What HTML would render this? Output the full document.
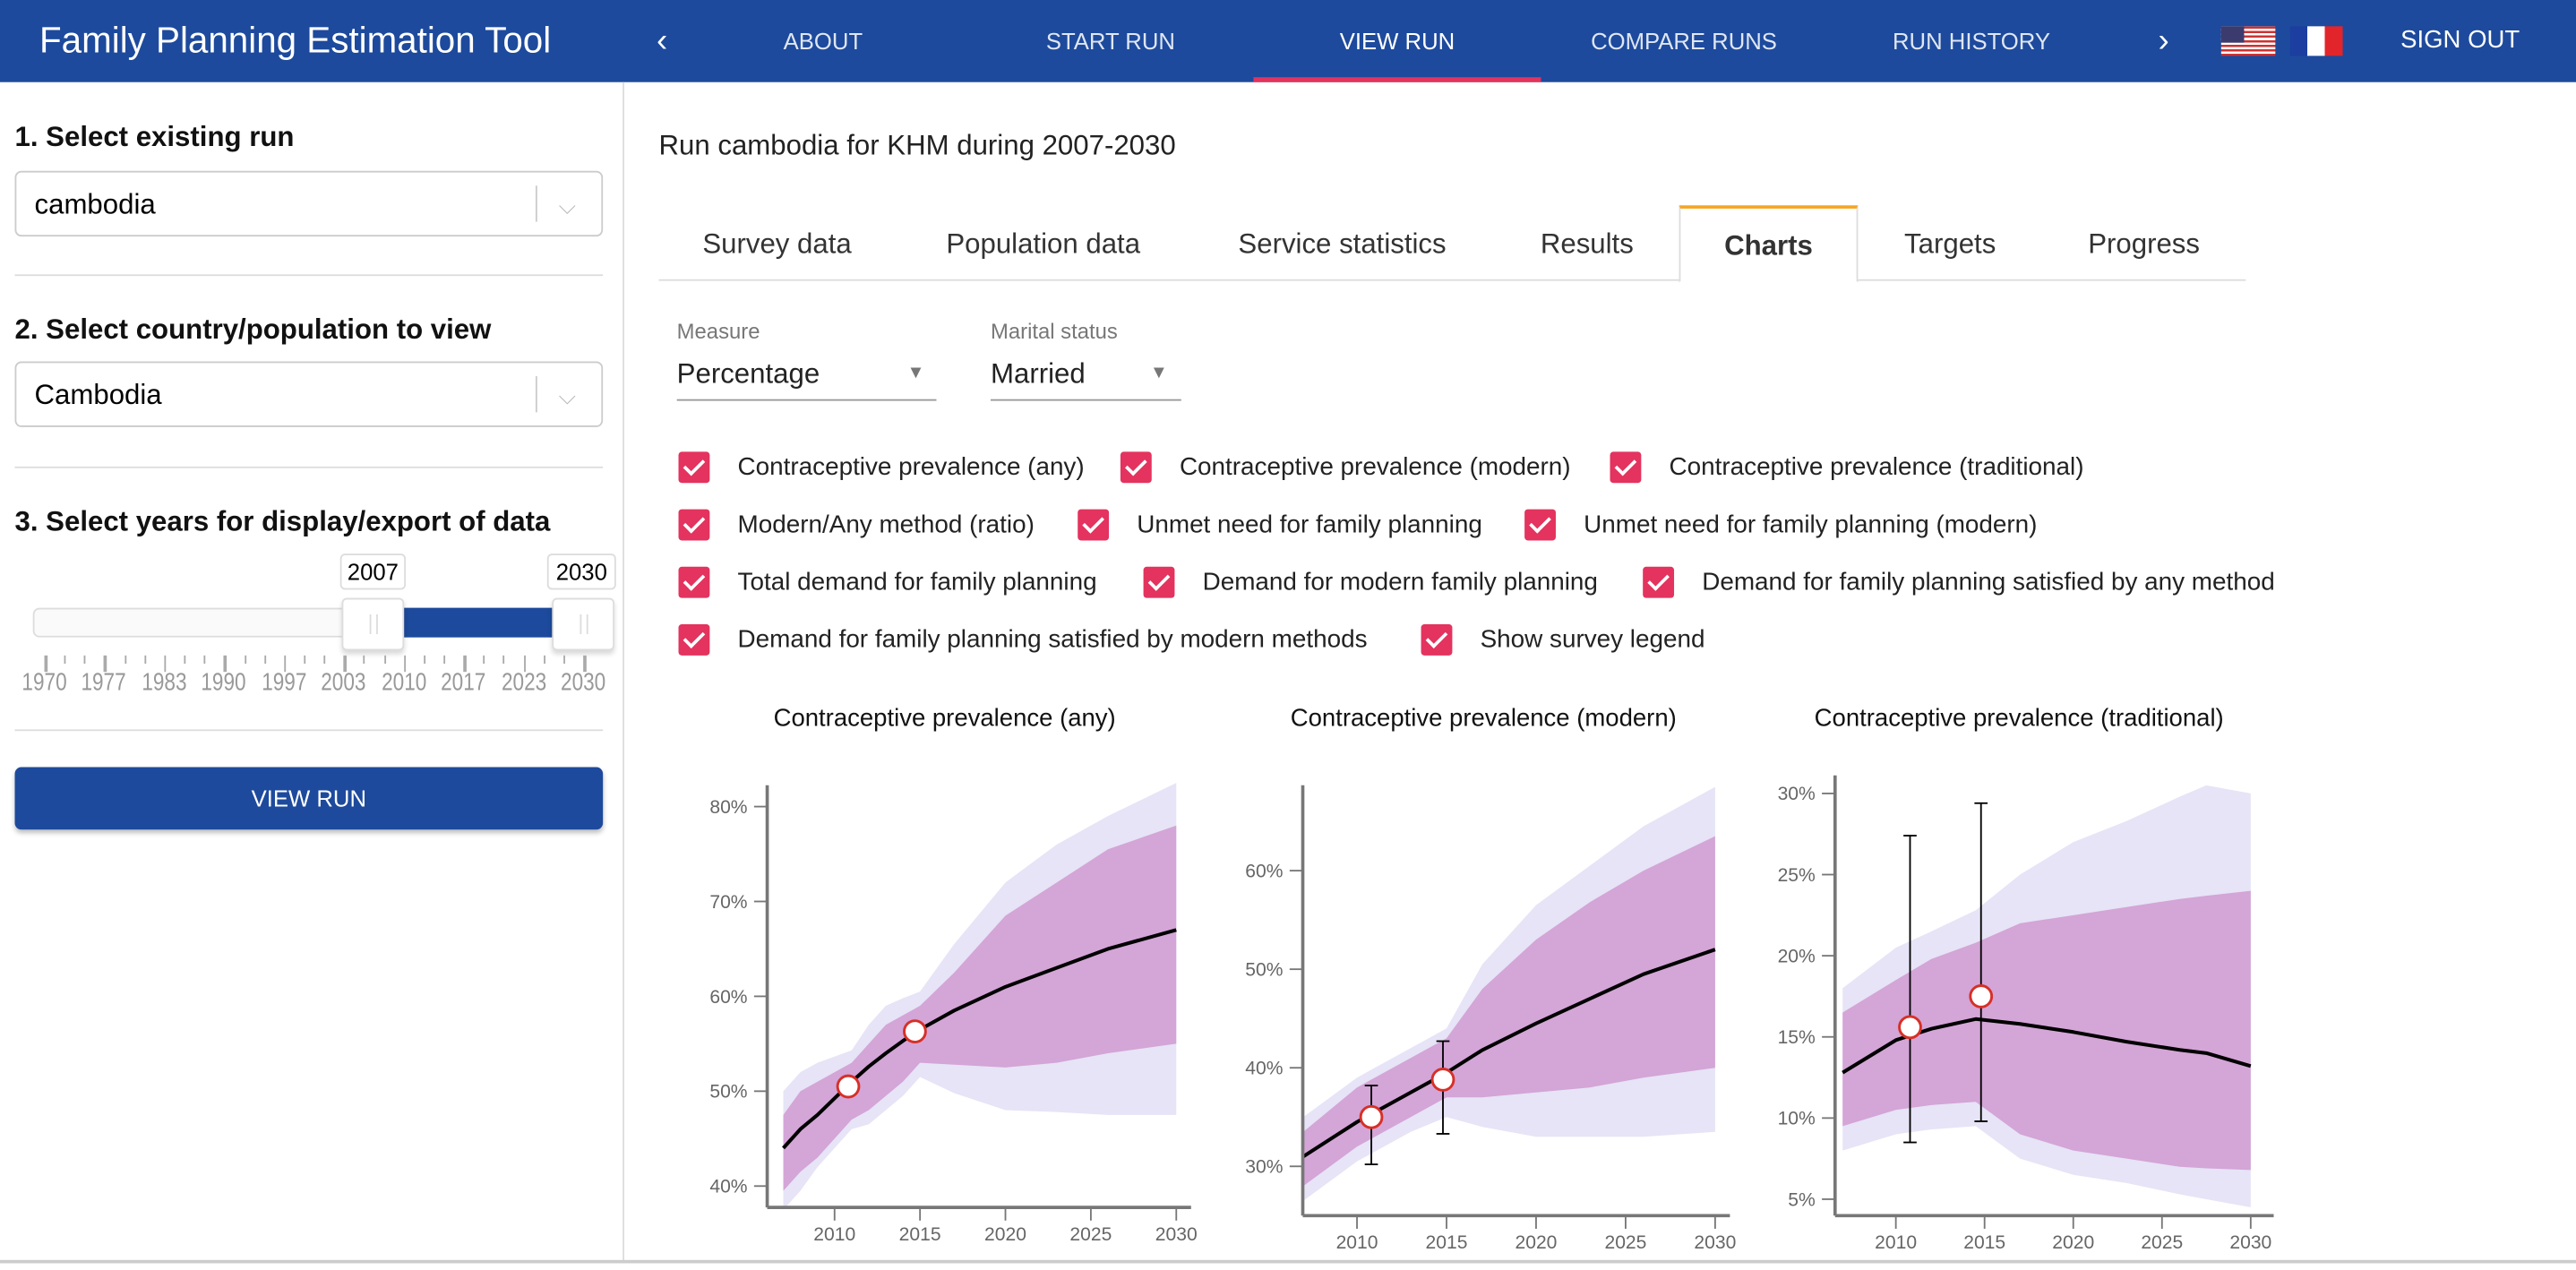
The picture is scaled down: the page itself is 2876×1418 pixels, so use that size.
<!DOCTYPE html>
<html><head><meta charset="utf-8">
<style>
html,body{margin:0;padding:0;width:2876px;height:1418px;overflow:hidden;background:#fff;font-family:"Liberation Sans",sans-serif;}
#wrap{position:absolute;left:0;top:0;width:1568px;height:773px;transform:scale(1.83418);transform-origin:0 0;}
.abs{position:absolute;}
.hdr{left:0;top:0;width:1568px;height:50px;background:#1d4a9c;color:#fff;}
.nav{top:0;height:50px;line-height:50px;font-size:14px;color:#dfe6f3;text-align:center;}
.left{left:0;top:50px;width:379px;height:718px;border-right:1px solid #ddd;}
.h{font-size:17px;font-weight:bold;color:#111;}
.sel{left:9px;width:356px;height:38px;border:1px solid #ccc;border-radius:4px;font-size:17px;line-height:40px;}
.sep{left:9px;width:358px;height:1px;background:#ddd;}
.tab{top:127px;height:44px;line-height:44px;font-size:17px;color:#333;text-align:center;}
.cb{width:19px;height:19px;background:#e3335e;border-radius:2px;}
.cb:after{content:"";position:absolute;left:6px;top:2px;width:5px;height:10px;border:solid #fff;border-width:0 2.5px 2.5px 0;transform:rotate(45deg);}
.cl{font-size:15.2px;color:#222;}
</style></head><body>
<div id="wrap">
<div class="abs hdr">
 <div class="abs" style="left:24px;top:12px;font-size:22px;">Family Planning Estimation Tool</div>
 <div class="abs nav" style="left:392px;width:22px;font-size:20px;color:#fff">‹</div>
 <div class="abs nav" style="left:440px;width:122px">ABOUT</div>
 <div class="abs nav" style="left:610px;width:132px">START RUN</div>
 <div class="abs nav" style="left:763px;width:175px;color:#fff;">VIEW RUN</div>
 <div class="abs" style="left:763px;top:47px;width:175px;height:3px;background:#e3335e"></div>
 <div class="abs nav" style="left:950px;width:150px">COMPARE RUNS</div>
 <div class="abs nav" style="left:1130px;width:140px">RUN HISTORY</div>
 <div class="abs nav" style="left:1306px;width:22px;font-size:20px;color:#fff">›</div>
 <div class="abs" style="left:1352px;top:16px;width:33px;height:18px;background:repeating-linear-gradient(#c33 0 1.4px,#fff 1.4px 2.8px)"><div class="abs" style="left:0;top:0;width:14px;height:10px;background:#3c3b6e"></div></div>
 <div class="abs" style="left:1394px;top:16px;width:32px;height:18px;background:linear-gradient(90deg,#1b3ea0 0 33%,#fff 33% 66%,#e1252b 66%)"></div>
 <div class="abs nav" style="left:1450px;width:95px;color:#fff;font-size:15px">SIGN OUT</div>
</div>

<div class="abs left">
 <div class="abs h" style="left:9px;top:24px">1. Select existing run</div>
 <div class="abs sel" style="top:54px"><span style="margin-left:11px">cambodia</span><span class="abs" style="left:316px;top:8px;width:1px;height:22px;background:#ccc"></span><span class="abs" style="left:330px;top:0;color:#bbb;font-size:14px">&#x2335;</span></div>
 <div class="abs sep" style="top:117px"></div>
 <div class="abs h" style="left:9px;top:141px">2. Select country/population to view</div>
 <div class="abs sel" style="top:170px"><span style="margin-left:11px">Cambodia</span><span class="abs" style="left:316px;top:8px;width:1px;height:22px;background:#ccc"></span><span class="abs" style="left:330px;top:0;color:#bbb;font-size:14px">&#x2335;</span></div>
 <div class="abs sep" style="top:234px"></div>
 <div class="abs h" style="left:9px;top:258px">3. Select years for display/export of data</div>
 <div class="abs" style="left:20px;top:320px;width:350px;background:#fafafa;border:1px solid #ddd;border-radius:4px;height:16px"></div>
 <div class="abs" style="left:236px;top:320px;width:106px;height:18px;background:#1d4a9c"></div>
 <div class="abs" style="left:208px;top:314px;width:36px;height:30px;background:#fff;border:1px solid #ddd;border-radius:3px;box-shadow:0 2px 3px rgba(0,0,0,.15)"><div class="abs" style="left:16px;top:9px;width:3px;height:12px;border-left:1px solid #ddd;border-right:1px solid #ddd"></div></div>
 <div class="abs" style="left:336px;top:314px;width:36px;height:30px;background:#fff;border:1px solid #ddd;border-radius:3px;box-shadow:0 2px 3px rgba(0,0,0,.15)"><div class="abs" style="left:16px;top:9px;width:3px;height:12px;border-left:1px solid #ddd;border-right:1px solid #ddd"></div></div>
 <div class="abs" style="left:207px;top:287px;width:38px;height:20px;border:1px solid #ddd;border-radius:3px;font-size:14px;text-align:center;line-height:20px;background:#fff">2007</div>
 <div class="abs" style="left:333px;top:287px;width:40px;height:20px;border:1px solid #ddd;border-radius:3px;font-size:14px;text-align:center;line-height:20px;background:#fff">2030</div>
 <div id="sticks" class="abs" style="left:0;top:349px;width:379px;height:40px"></div>
 <div class="abs sep" style="top:394px"></div>
 <div class="abs" style="left:9px;top:417px;width:358px;height:38px;background:#1d4a9c;border-radius:4px;color:#fff;font-size:14px;text-align:center;line-height:38px;box-shadow:0 2px 3px rgba(0,0,0,.25)">VIEW RUN</div>
</div>

<div class="abs" style="left:401px;top:79px;font-size:17px;color:#222">Run cambodia for KHM during 2007-2030</div>
<div class="abs" style="left:401px;top:170px;width:966px;height:1px;background:#ddd"></div>
<div class="abs tab" style="left:418px;width:110px">Survey data</div>
<div class="abs tab" style="left:560px;width:150px">Population data</div>
<div class="abs tab" style="left:737px;width:160px">Service statistics</div>
<div class="abs tab" style="left:926px;width:80px">Results</div>
<div class="abs tab" style="left:1022px;width:107px;border:1px solid #ddd;border-top:2px solid #f5a623;border-bottom:1px solid #fff;font-weight:bold;background:#fff;top:125px;line-height:46px">Charts</div>
<div class="abs tab" style="left:1145px;width:84px">Targets</div>
<div class="abs tab" style="left:1255px;width:100px">Progress</div>

<div class="abs" style="left:412px;top:194px;font-size:13px;color:#777">Measure</div>
<div class="abs" style="left:412px;top:218px;width:158px;height:25px;border-bottom:1px solid #999;font-size:17px;color:#222">Percentage<span class="abs" style="left:140px;top:3px;font-size:11px;color:#777">▼</span></div>
<div class="abs" style="left:603px;top:194px;font-size:13px;color:#777">Marital status</div>
<div class="abs" style="left:603px;top:218px;width:116px;height:25px;border-bottom:1px solid #999;font-size:17px;color:#222">Married<span class="abs" style="left:97px;top:3px;font-size:11px;color:#777">▼</span></div>

<div id="cbs"></div>
<svg id="charts" class="abs" style="left:0;top:0" width="1568" height="773"></svg>
<div class="abs" style="left:0;top:767px;width:1568px;height:2px;background:#ccc"></div>
</div>
<script>
// slider scale
const sliderLabels=["1970","1977","1983","1990","1997","2003","2010","2017","2023","2030"];
(function(){const s=document.getElementById('sticks');let h='';
const x0=27, step=36.45/3;
for(let i=0;i<=27;i++){const x=x0+i*step;const big=i%3==0;h+=`<div class="abs" style="left:${x}px;top:0px;width:${big?1.5:1}px;height:${big?10:5}px;background:#aaa"></div>`;}
sliderLabels.forEach((l,i)=>{h+=`<div class="abs" style="left:${x0+i*36.45-20}px;top:8px;width:40px;text-align:center;font-size:15px;color:#999;transform:scaleX(0.82)">${l}</div>`});
s.innerHTML=h;})();
// checkboxes
const cbItems=[[413,284,"Contraceptive prevalence (any)"],[682,284,"Contraceptive prevalence (modern)"],[980,284,"Contraceptive prevalence (traditional)"],
[413,319,"Modern/Any method (ratio)"],[656,319,"Unmet need for family planning"],[928,319,"Unmet need for family planning (modern)"],
[413,354,"Total demand for family planning"],[696,354,"Demand for modern family planning"],[1000,354,"Demand for family planning satisfied by any method"],
[413,389,"Demand for family planning satisfied by modern methods"],[865,389,"Show survey legend"]];
(function(){const c=document.getElementById('cbs');
cbItems.forEach(it=>{
 const d=document.createElement('div');d.className='abs cb';d.style.left=it[0]+'px';d.style.top=(it[1]-9)+'px';
 
 
 c.appendChild(d);
 const l=document.createElement('div');l.className='abs cl';l.style.left=(it[0]+36)+'px';l.style.top=(it[1]-8)+'px';l.textContent=it[2];
 
 
 c.appendChild(l);});})();

// chart data
const c1Years=[2007,2008,2009,2011,2012,2013,2014,2015,2017,2020,2023,2026,2030];
const c1Median=[44,46,47.5,51,52.6,54,55.3,56.5,58.5,61,63,65,67];
const c1InnerHi=[47.5,50,51,53,55,57,58,59,62.5,68.5,72,75.5,78];
const c1InnerLo=[39.5,41.5,43,47,48,49.5,51,53,52.8,52.5,53,54,55];
const c1OuterHi=[50,52,53,54.3,57,59,59.8,60.5,65.5,72,76,79,82.5];
const c1OuterLo=[37.5,39.5,42,46,46.5,48,49.5,51.5,49.8,48,47.8,47.5,47.5];
const c1SurveyX=[2010.8,2014.7];
const c1SurveyY=[50.5,56.3];
const c1SurveyLo=[null,null];
const c1SurveyHi=[null,null];
const c1Ticks=[40,50,60,70,80];

const c2Years=[2007,2010,2013,2015,2017,2020,2023,2026,2030];
const c2Median=[31,34.5,37.5,39.5,41.8,44.5,47,49.5,52];
const c2InnerHi=[33.5,38,41,43,48,53,56.8,60,63.5];
const c2InnerLo=[28,32,35,37,37,37.5,38,39,40];
const c2OuterHi=[35,39,42,44,50.5,56.5,60.5,64.5,68.5];
const c2OuterLo=[26.5,30.5,33.5,35,34,33,33,33,33.5];
const c2SurveyX=[2010.8,2014.8];
const c2SurveyY=[35,38.8];
const c2SurveyLo=[30.2,33.3];
const c2SurveyHi=[38.2,42.7];
const c2Ticks=[30,40,50,60];

const c3Years=[2007,2010,2012,2014.5,2017,2020,2023,2026,2027.5,2030];
const c3Median=[12.8,14.8,15.5,16.1,15.8,15.3,14.7,14.2,14,13.2];
const c3InnerHi=[16.5,18.5,19.8,20.8,22,22.5,23,23.5,23.7,24];
const c3InnerLo=[9.5,10.5,10.8,11,9,8,7.5,7,6.9,6.8];
const c3OuterHi=[18,20.5,21.5,22.8,25,27,28.3,29.8,30.5,30];
const c3OuterLo=[8,9,9.3,9.5,7.5,6.5,6,5.3,5,4.5];
const c3SurveyX=[2010.8,2014.8];
const c3SurveyY=[15.6,17.5];
const c3SurveyLo=[8.5,9.8];
const c3SurveyHi=[27.4,29.4];
const c3Ticks=[5,10,15,20,25,30];
const xTicks=[2010,2015,2020,2025,2030];

const svg=document.getElementById('charts');
const NS='http://www.w3.org/2000/svg';
function mk(t,a,p){const e=document.createElementNS(NS,t);for(const k in a)e.setAttribute(k,a[k]);(p||svg).appendChild(e);return e;}
function chart(cfg){
 const g=mk('g',{});
 
 
 const X=v=>cfg.x0+(v-2010)*cfg.xs, Y=v=>cfg.y0-(v-cfg.yref)*cfg.ys;
 const band=(hi,lo,col,nm)=>{let d='';cfg.years.forEach((yr,i)=>d+=(i?'L':'M')+X(yr)+','+Y(hi[i]));
  for(let i=cfg.years.length-1;i>=0;i--)d+='L'+X(cfg.years[i])+','+Y(lo[i]);
  const p=mk('path',{d:d+'Z',fill:col},g);
  
  };
 band(cfg.oh,cfg.ol,'#e6e4f6','outer-interval-band');
 band(cfg.ih,cfg.il,'#d4a5d7','inner-interval-band');
 let d='';cfg.years.forEach((yr,i)=>d+=(i?'L':'M')+X(yr)+','+Y(cfg.med[i]));
 const ln=mk('path',{d:d,fill:'none',stroke:'#000','stroke-width':2.2,'stroke-linejoin':'round'},g);
 
 
 mk('line',{x1:cfg.ax,y1:cfg.axTop,x2:cfg.ax,y2:cfg.axB,stroke:'#777','stroke-width':2},g);
 mk('line',{x1:cfg.ax,y1:cfg.axB,x2:cfg.axR,y2:cfg.axB,stroke:'#777','stroke-width':2},g);
 cfg.ticks.forEach(t=>{mk('line',{x1:cfg.ax-8,x2:cfg.ax,y1:Y(t),y2:Y(t),stroke:'#777'},g);
  const tx=mk('text',{x:cfg.ax-12,y:Y(t)+4,'text-anchor':'end','font-size':11.5,fill:'#666'},g);tx.textContent=t+'%';
  
  });
 xTicks.forEach(t=>{mk('line',{x1:X(t),x2:X(t),y1:cfg.axB,y2:cfg.axB+8,stroke:'#777'},g);
  const tx=mk('text',{x:X(t),y:cfg.axB+20,'text-anchor':'middle','font-size':11.5,fill:'#666'},g);tx.textContent=t;
  
  });
 cfg.sx.forEach((sx,i)=>{
  if(cfg.slo[i]!=null){mk('line',{x1:X(sx),x2:X(sx),y1:Y(cfg.slo[i]),y2:Y(cfg.shi[i]),stroke:'#000','stroke-width':1},g);
   mk('line',{x1:X(sx)-4,x2:X(sx)+4,y1:Y(cfg.slo[i]),y2:Y(cfg.slo[i]),stroke:'#000'},g);
   mk('line',{x1:X(sx)-4,x2:X(sx)+4,y1:Y(cfg.shi[i]),y2:Y(cfg.shi[i]),stroke:'#000'},g);}
  const c=mk('circle',{cx:X(sx),cy:Y(cfg.sy[i]),r:6.5,fill:'#fff',stroke:'#d63027','stroke-width':1.6},g);
  
  });
 const tt=mk('text',{x:cfg.tx,y:442,'text-anchor':'middle','font-size':15,fill:'#111'},g);tt.textContent=cfg.title;
 
 
}
chart({name:'chart-cp-any',title:'Contraceptive prevalence (any)',tx:575,x0:508,xs:10.4,y0:722,yref:40,ys:5.775,ax:467,axTop:478,axB:735,axR:725,
 years:c1Years,med:c1Median,ih:c1InnerHi,il:c1InnerLo,oh:c1OuterHi,ol:c1OuterLo,sx:c1SurveyX,sy:c1SurveyY,slo:c1SurveyLo,shi:c1SurveyHi,ticks:c1Ticks});
chart({name:'chart-cp-modern',title:'Contraceptive prevalence (modern)',tx:903,x0:826,xs:10.9,y0:710,yref:30,ys:6,ax:793,axTop:478,axB:740,axR:1053,
 years:c2Years,med:c2Median,ih:c2InnerHi,il:c2InnerLo,oh:c2OuterHi,ol:c2OuterLo,sx:c2SurveyX,sy:c2SurveyY,slo:c2SurveyLo,shi:c2SurveyHi,ticks:c2Ticks});
chart({name:'chart-cp-traditional',title:'Contraceptive prevalence (traditional)',tx:1229,x0:1154,xs:10.8,y0:730,yref:5,ys:9.88,ax:1117,axTop:472,axB:740,axR:1384,
 years:c3Years,med:c3Median,ih:c3InnerHi,il:c3InnerLo,oh:c3OuterHi,ol:c3OuterLo,sx:c3SurveyX,sy:c3SurveyY,slo:c3SurveyLo,shi:c3SurveyHi,ticks:c3Ticks});
</script>
</body></html>
